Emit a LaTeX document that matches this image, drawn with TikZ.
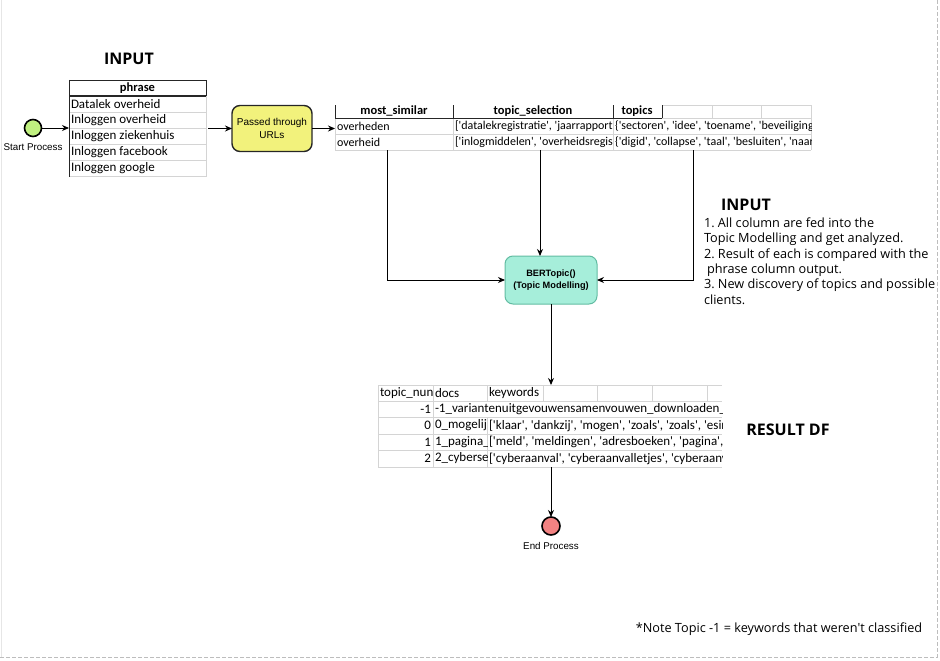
\documentclass[tikz,border=0pt]{standalone}
\usepackage{fontspec}
\setmainfont{Carlito}[Ligatures=TeXOff]
\newfontfamily\opensans{Open Sans}[Ligatures=TeXOff]
\newfontfamily\arialfont{Liberation Sans}
\usetikzlibrary{positioning,arrows.meta}
\definecolor{gridgray}{HTML}{D4D4D4}
\definecolor{framegray}{HTML}{BDBDBD}
\definecolor{edgegray}{HTML}{E6E6E6}
\definecolor{startgreen}{HTML}{C0F080}
\definecolor{endred}{HTML}{F28282}
\definecolor{urlyellow}{HTML}{F2F27C}
\definecolor{bertfill}{HTML}{A6EEDA}
\definecolor{bertdraw}{HTML}{62BCA2}
\frenchspacing

\begin{document}
\begin{tikzpicture}[
        x=1pt, y=-1pt,
        every node/.style={inner sep=0pt, outer sep=0pt},
        event/.style={circle, draw=black, line width=1.6pt, minimum size=17pt},
        proc/.style={rounded corners=8pt, draw=black!85, line width=1.4pt, align=center, font=\arialfont\fontsize{10}{12.5}\selectfont},
        lbl/.style={font=\arialfont\fontsize{9.8}{11}\selectfont},
        title/.style={font=\opensans\bfseries\fontsize{16}{19}\selectfont},
        notefont/.style={font=\opensans\fontsize{12.7}{15.4}\selectfont},
        cell/.style={anchor=west, font=\fontsize{13}{14}\selectfont},
        smallcell/.style={anchor=west, font=\fontsize{12}{14}\selectfont},
        head/.style={font=\bfseries\fontsize{12.5}{14}\selectfont},
        frame/.style={minimum width=#1, anchor=north west},
        dark/.style={draw=black!85, line width=0.9pt},
        grid/.style={draw=gridgray, line width=0.8pt},
        arr/.style={-{Stealth[length=7pt,width=6pt]}, line width=0.9pt}
      ]
        \useasboundingbox (0,0) rectangle (940,661);
        \draw[edgegray, line width=1pt] (1.5,0) -- (1.5,657);
        \draw[framegray, line width=0.8pt, dash pattern=on 4pt off 2pt] (937,0) -- (937,657) -- (0,657);

        % input table
        \node[frame=137pt, minimum height=97pt] (phrase) at (69,80) {};
        \draw[grid] (69,112) -- (206,112) (69,128) -- (206,128) (69,144) -- (206,144)
                    (69,160) -- (206,160) (69,176) -- (206,176) (206,96) -- (206,177);
        \draw[dark] (69,80) -- (206,80) -- (206,96) (69,80) -- (69,177);
        \draw[dark, line width=1.3pt] (69,96) -- (206,96);
        \node[head] (hphrase) at (137.5,88) {phrase};
        \node[cell] (p1) at (71,104) {Datalek overheid};
        \node[cell] (p2) at (71,120) {Inloggen overheid};
        \node[cell] (p3) at (71,136) {Inloggen ziekenhuis};
        \node[cell] (p4) at (71,152) {Inloggen facebook};
        \node[cell] (p5) at (71,168) {Inloggen google};
        \node[title] (intitle) at (129,59) {INPUT};

        \node[event, fill=startgreen] (start) at (33,128) {};
        \node[lbl, below=7pt of start] (startlbl) {Start Process};
        \node[proc, fill=urlyellow, minimum width=80pt, minimum height=46pt, right=26pt of phrase] (urls) {Passed through\\URLs};

        % similarity table
        \node[frame=476pt, minimum height=45pt, anchor=north west] (simtab) at (335,105) {};
        \draw[grid] (335,118) -- (335,150) (335,134) -- (811,134) (335,150) -- (811,150)
                    (453,118) -- (453,150) (613,118) -- (613,150) (662,105) -- (811,105)
                    (662,118) -- (811,118) (712,105) -- (712,118) (761,105) -- (761,118)
                    (811,105) -- (811,150);
        \draw[dark] (335,105) -- (335,118) (453,105) -- (453,118) (613,105) -- (613,118)
                    (662,105) -- (662,118) (335,118) -- (662,118);
        \node[head] (hsim) at (394,111) {most\_similar};
        \node[head] (hsel) at (533,111) {topic\_selection};
        \node[head] (htop) at (637,111) {topics};
        \node[smallcell] (s1) at (337,126) {overheden};
        \node[smallcell] (s2) at (337,142) {overheid};
        \begin{scope}
          \clip (453,118) rectangle (613,150);
          \node[smallcell] (t1) at (455,126) {['datalekregistratie', 'jaarrapport};
          \node[smallcell] (t2) at (455,142) {['inlogmiddelen', 'overheidsregis};
        \end{scope}
        \begin{scope}
          \clip (613,118) rectangle (811,150);
          \node[smallcell] (k1) at (615,126) {\{'sectoren', 'idee', 'toename', 'beveiligings};
          \node[smallcell] (k2) at (615,142) {\{'digid', 'collapse', 'taal', 'besluiten', 'naar',};
        \end{scope}
        \coordinate (o1) at (387,150);
        \coordinate (o2) at (540,150);
        \coordinate (o3) at (693,150);

        \node[proc, fill=bertfill, draw=bertdraw, line width=1pt, minimum width=92pt, minimum height=48pt,
              font=\arialfont\bfseries\fontsize{9.2}{12}\selectfont] (bert) at (551,280) {BERTopic()\\(Topic Modelling)};

        \node[title] (intitle2) at (746,205) {INPUT};
        \node[notefont, anchor=north west, align=left] (steps) at (704,217.5)
          {1. All column are fed into the\\Topic Modelling and get analyzed.\\2. Result of each is compared with the\\\hspace*{3pt}phrase column output.\\3. New discovery of topics and possible\\clients.};

        % result table
        \node[frame=344pt, minimum height=82pt, below=81pt of bert] (restab) {};
        \draw[grid] (378,385) -- (722,385) (378,401) -- (722,401) (378,417) -- (722,417)
                    (378,434) -- (722,434) (378,450) -- (722,450) (378,467) -- (722,467)
                    (378,385) -- (378,467) (433,385) -- (433,467) (487,385) -- (487,401)
                    (487,417) -- (487,467) (543,385) -- (543,401) (597,385) -- (597,401)
                    (652,385) -- (652,401) (707,385) -- (707,401);
        \begin{scope}
          \clip (378,385) rectangle (433,401);
          \node[cell] (hnum) at (380,393) {topic\_nun};
        \end{scope}
        \node[cell] (hdocs) at (435,393) {docs};
        \node[cell] (hkey) at (489,393) {keywords};
        \node[cell, anchor=east] (n1) at (431,409) {-1};
        \node[cell, anchor=east] (n2) at (431,425.5) {0};
        \node[cell, anchor=east] (n3) at (431,442) {1};
        \node[cell, anchor=east] (n4) at (431,458.5) {2};
        \begin{scope}
          \clip (433,401) rectangle (722,417);
          \node[cell] (d1) at (435,409) {-1\_variantenuitgevouwensamenvouwen\_downloaden\_};
        \end{scope}
        \begin{scope}
          \clip (433,417) rectangle (487,467);
          \node[cell] (d2) at (435,425.5) {0\_mogelij};
          \node[cell] (d3) at (435,442) {1\_pagina\_};
          \node[cell] (d4) at (435,458.5) {2\_cyberse};
        \end{scope}
        \begin{scope}
          \clip (487,417) rectangle (722,467);
          \node[cell] (w2) at (489,425.5) {['klaar', 'dankzij', 'mogen', 'zoals', 'zoals', 'esin};
          \node[cell] (w3) at (489,442) {['meld', 'meldingen', 'adresboeken', 'pagina',};
          \node[cell] (w4) at (489,458.5) {['cyberaanval', 'cyberaanvalletjes', 'cyberaanv};
        \end{scope}
        \node[title] (restitle) at (788,430) {RESULT DF};

        \node[event, fill=endred, minimum size=18pt, below=50pt of restab] (end) {};
        \node[lbl, below=7pt of end] (endlbl) {End Process};

        \node[notefont] (note) at (779,629) {*Note Topic -1 = keywords that weren't classified};

        \draw[arr] (start.east) -- (start.east -| phrase.west);
        \draw[arr] (phrase.east) ++(2pt,0) -- (urls.west);
        \draw[arr] (urls.east) -- (urls.east -| simtab.west);
        \draw[arr] (o1) |- (bert.west);
        \draw[arr] (o2) -- (o2 |- bert.north);
        \draw[arr] (o3) |- (bert.east);
        \draw[arr] (bert.south) -- (bert.south |- restab.north);
        \draw[arr] (end.north |- restab.south) -- (end.north);
      \end{tikzpicture}
\end{document}
